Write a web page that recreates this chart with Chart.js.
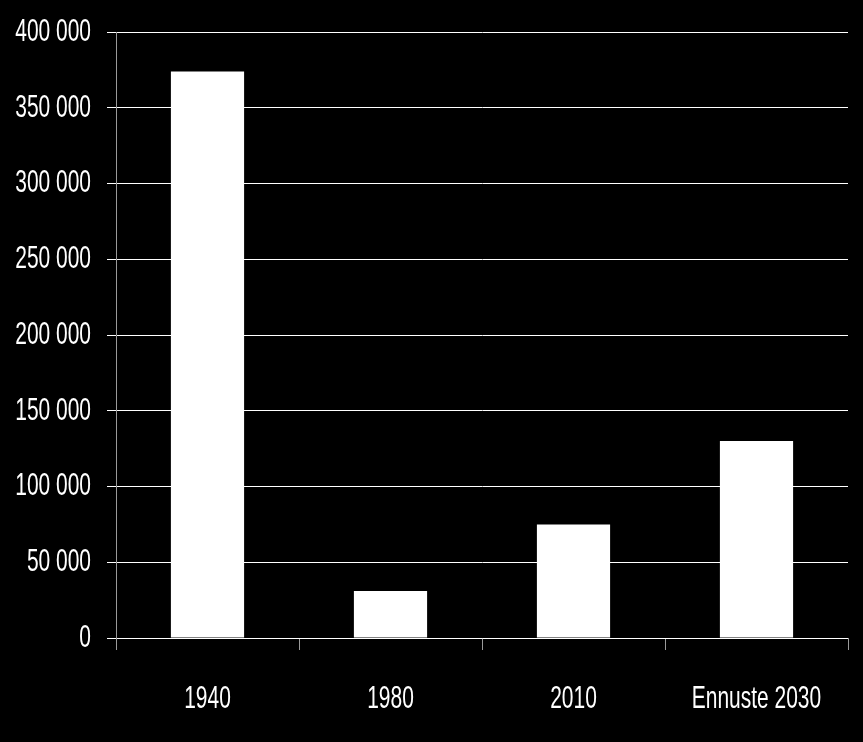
<!DOCTYPE html>
<html lang="et">
<head>
    <meta charset="UTF-8">
    <title>Ennuste 2030</title>
    <script src="https://cdn.jsdelivr.net/npm/chart.js"></script>
    <style>
        body { margin: 0; background: #000; }
    </style>
</head>
<body>
    <canvas id="chart" width="863" height="742"></canvas>

    <script>
        // Values
        const categories = ['1940', '1980', '2010', 'Ennuste 2030'];
        const values = [374000, 31000, 75000, 130000];
        const yTicks = [0, 50000, 100000, 150000, 200000, 250000, 300000, 350000, 400000];

        const fontFamily = "'Liberation Sans', Arial, sans-serif";
        // the original text is tall and narrow, squeeze glyphs horizontally
        const textSqueeze = 0.655;

        // Space as thousands separator: 400 000
        const fmt = v => String(v).replace(/\B(?=(\d{3})+(?!\d))/g, ' ');

        const ctx = document.getElementById('chart').getContext('2d');

        const origFillText = ctx.fillText;
        const origMeasureText = ctx.measureText;
        ctx.fillText = function (text, x, y) {
            this.save();
            this.translate(x, y);
            this.scale(textSqueeze, 1);
            origFillText.call(this, text, 0, 0);
            this.restore();
        };
        ctx.measureText = function (text) {
            const m = origMeasureText.call(this, text);
            return {
                width: m.width * textSqueeze,
                actualBoundingBoxAscent: m.actualBoundingBoxAscent,
                actualBoundingBoxDescent: m.actualBoundingBoxDescent
            };
        };

        new Chart(ctx, {
            type: 'bar',
            data: {
                labels: categories,
                datasets: [{
                    data: values,
                    backgroundColor: '#ffffff',
                    borderWidth: 0,
                    categoryPercentage: 1,
                    barPercentage: 0.4
                }]
            },
            options: {
                responsive: false,
                animation: false,
                layout: { padding: { top: 32, right: 15, left: 0, bottom: 0 } },
                plugins: {
                    legend: { display: false },
                    tooltip: { enabled: false }
                },
                scales: {
                    x: {
                        grid: {
                            drawOnChartArea: false,
                            color: '#9a9a9a',
                            tickLength: 12,
                            offset: true
                        },
                        border: { display: false },
                        ticks: {
                            color: '#ffffff',
                            padding: 30,
                            maxRotation: 0,
                            autoSkip: false,
                            font: { family: fontFamily, size: 32 }
                        },
                        afterFit: scale => { scale.height = 104; }
                    },
                    y: {
                        min: 0,
                        max: 400000,
                        afterBuildTicks: scale => {
                            scale.ticks = yTicks.map(v => ({ value: v }));
                        },
                        grid: {
                            color: '#ffffff',
                            lineWidth: 1,
                            tickLength: 9
                        },
                        border: { display: true, color: '#9a9a9a', width: 1 },
                        ticks: {
                            color: '#ffffff',
                            padding: 16,
                            font: { family: fontFamily, size: 32 },
                            callback: v => fmt(v)
                        },
                        afterFit: scale => {
                            scale.width = 116;
                            scale.paddingTop = 0;
                            scale.paddingBottom = 0;
                        }
                    }
                }
            }
        });
    </script>
</body>
</html>
